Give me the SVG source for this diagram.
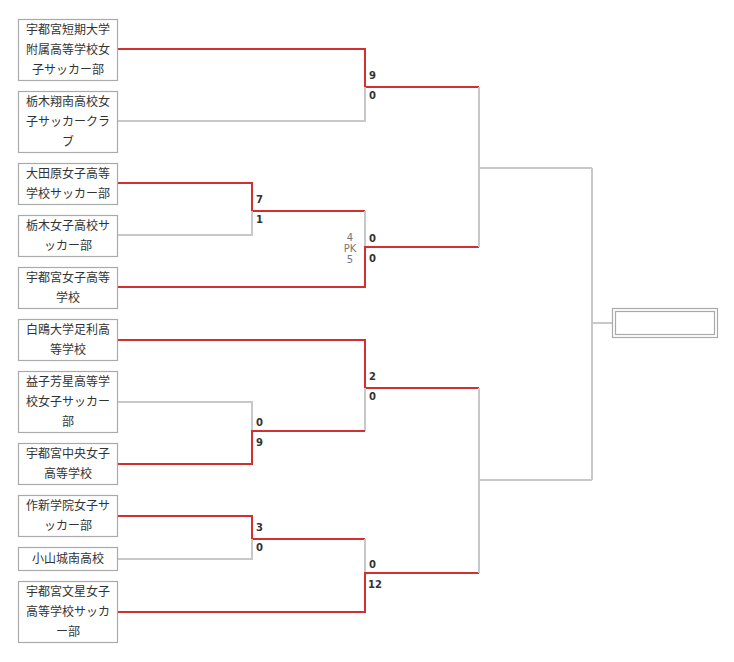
<svg xmlns="http://www.w3.org/2000/svg" width="734" height="662" viewBox="0 0 734 662">
<style>
.box{fill:#fff;stroke:#aaa;stroke-width:1.2}
.t{font-family:"Noto Sans CJK JP","Noto Sans",sans-serif;font-size:12px;fill:#333;text-anchor:middle}
.s{font-family:"DejaVu Sans",sans-serif;font-size:10px;font-weight:bold;fill:#333}
.pk{font-family:"DejaVu Sans",sans-serif;font-size:10px;fill:#777;text-anchor:middle}
.r{fill:none;stroke:#d03030;stroke-width:2}
.g{fill:none;stroke:#c8c8c8;stroke-width:2}
</style>
<rect width="734" height="662" fill="#fff"/>
<g id="connectors">
<path class="r" d="M118 49H365V87H479"/><path class="g" d="M118 121H365V87"/>
<path class="r" d="M118 183H252V211H365"/><path class="g" d="M118 235H252V211"/>
<path class="g" d="M365 211V247"/><path class="r" d="M118 287H365V247H479"/>
<path class="r" d="M118 340H365V388H479"/><path class="g" d="M365 388V431"/>
<path class="g" d="M118 402H252V431"/><path class="r" d="M118 464H252V431H365"/>
<path class="r" d="M118 516H252V539H365"/><path class="g" d="M118 559H252V539"/>
<path class="g" d="M365 539V573"/><path class="r" d="M118 612H365V573H479"/>
<path class="g" d="M479 87V247M479 168H592M479 388V573M479 480H592M592 168V480M592 323H612"/>
</g>
<g id="scores">
<text class="s" x="369" y="79">9</text><text class="s" x="369" y="99">0</text>
<text class="s" x="256" y="203">7</text><text class="s" x="256" y="223">1</text>
<text class="s" x="369" y="242">0</text><text class="s" x="369" y="262">0</text>
<text class="pk" x="350" y="241">4</text><text class="pk" x="350" y="252">PK</text><text class="pk" x="350" y="263">5</text>
<text class="s" x="369" y="380">2</text><text class="s" x="369" y="400">0</text>
<text class="s" x="256" y="426">0</text><text class="s" x="256" y="446">9</text>
<text class="s" x="256" y="531">3</text><text class="s" x="256" y="551">0</text>
<text class="s" x="369" y="568">0</text><text class="s" x="368" y="588">12</text>
</g>
<g id="n1"><rect class="box" x="18.5" y="19.5" width="99" height="61"/><text class="t" x="68" y="34">宇都宮短期大学</text><text class="t" x="68" y="54">附属高等学校女</text><text class="t" x="68" y="74">子サッカー部</text></g>
<g id="n2"><rect class="box" x="18.5" y="91.5" width="99" height="61"/><text class="t" x="68" y="106">栃木翔南高校女</text><text class="t" x="68" y="126">子サッカークラ</text><text class="t" x="68" y="146">ブ</text></g>
<g id="n3"><rect class="box" x="18.5" y="163.5" width="99" height="41"/><text class="t" x="68" y="178">大田原女子高等</text><text class="t" x="68" y="198">学校サッカー部</text></g>
<g id="n4"><rect class="box" x="18.5" y="215.5" width="99" height="41"/><text class="t" x="68" y="230">栃木女子高校サ</text><text class="t" x="68" y="250">ッカー部</text></g>
<g id="n5"><rect class="box" x="18.5" y="267.5" width="99" height="41"/><text class="t" x="68" y="282">宇都宮女子高等</text><text class="t" x="68" y="302">学校</text></g>
<g id="n6"><rect class="box" x="18.5" y="319.5" width="99" height="41"/><text class="t" x="68" y="334">白鴎大学足利高</text><text class="t" x="68" y="354">等学校</text></g>
<g id="n7"><rect class="box" x="18.5" y="371.5" width="99" height="61"/><text class="t" x="68" y="386">益子芳星高等学</text><text class="t" x="68" y="406">校女子サッカー</text><text class="t" x="68" y="426">部</text></g>
<g id="n8"><rect class="box" x="18.5" y="443.5" width="99" height="41"/><text class="t" x="68" y="458">宇都宮中央女子</text><text class="t" x="68" y="478">高等学校</text></g>
<g id="n9"><rect class="box" x="18.5" y="495.5" width="99" height="41"/><text class="t" x="68" y="510">作新学院女子サ</text><text class="t" x="68" y="530">ッカー部</text></g>
<g id="n10"><rect class="box" x="18.5" y="547.5" width="99" height="23"/><text class="t" x="68" y="563">小山城南高校</text></g>
<g id="n11"><rect class="box" x="18.5" y="581.5" width="99" height="61"/><text class="t" x="68" y="596">宇都宮文星女子</text><text class="t" x="68" y="616">高等学校サッカ</text><text class="t" x="68" y="636">ー部</text></g>
<g id="final"><rect class="box" x="612.5" y="308.5" width="105" height="29"/><rect class="box" x="615.5" y="311.5" width="99" height="23"/></g>
</svg>
